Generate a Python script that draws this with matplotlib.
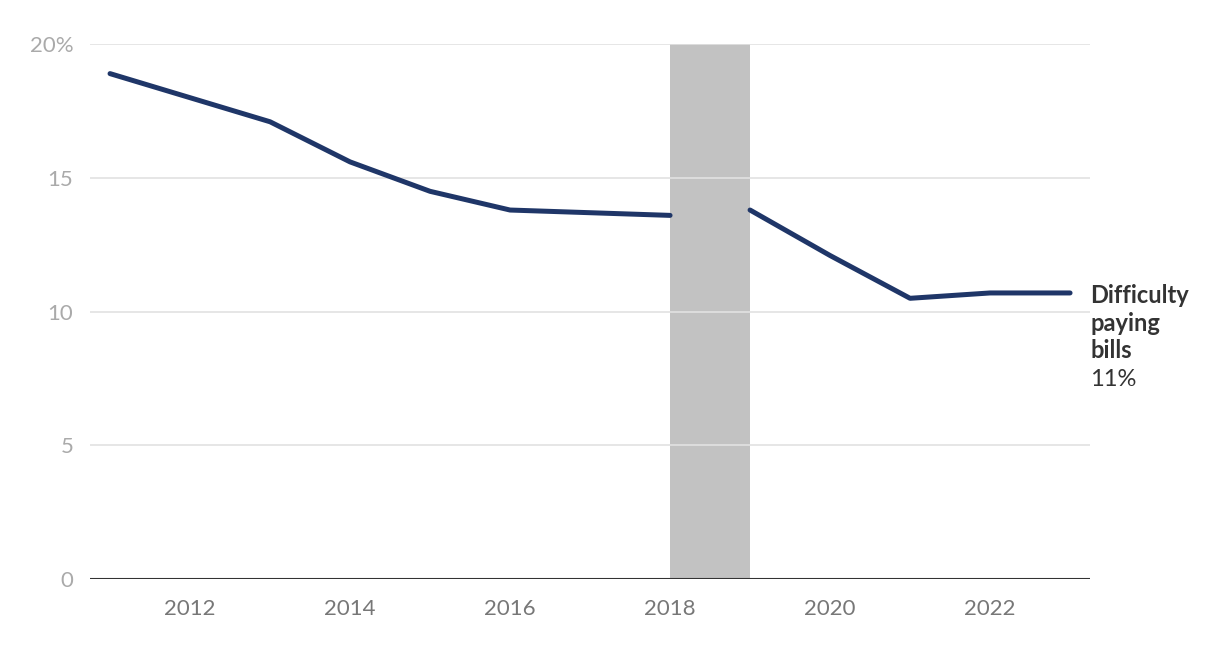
import numpy as np
import matplotlib
matplotlib.use('Agg')
import matplotlib.pyplot as plt

plt.rcParams['font.family'] = ['Lato', 'DejaVu Sans']

# data: share of adults with difficulty paying bills (%)
years = [2011, 2012, 2013, 2014, 2015, 2016, 2017, 2018, 2019, 2020, 2021, 2022, 2023]
share = [18.9, 18.0, 17.1, 15.6, 14.5, 13.8, 13.7, 13.6, 13.8, 12.1, 10.5, 10.7, 10.7]
break_start, break_end = 2018, 2019   # survey break, shaded
y_ticks = [0, 5, 10, 15, 20]
y_labels = ['0', '5', '10', '15', '20%']
x_ticks = [2012, 2014, 2016, 2018, 2020, 2022]
label_lines = ['Difficulty', 'paying', 'bills']

line_color = '#1f3668'

fig = plt.figure(figsize=(12.2, 6.5), dpi=100)
ax = fig.add_axes([0.0738, 0.109, 0.8197, 0.823])

yrs = np.array(years)
vals = np.array(share)
before = yrs <= break_start
after = yrs >= break_end
ax.plot(yrs[before], vals[before], color=line_color, lw=3.6,
        solid_capstyle='round', solid_joinstyle='round', zorder=4)
ax.plot(yrs[after], vals[after], color=line_color, lw=3.6,
        solid_capstyle='round', solid_joinstyle='round', zorder=4)

ax.axvspan(break_start, break_end, color='#c2c2c2', lw=0, zorder=1)

for t in y_ticks[1:]:
    ax.axhline(t, color='#e2e2e2', lw=1.2, zorder=2)
ax.axhline(0, color='#333333', lw=1.5, zorder=3)

ax.set_xlim(2010.75, 2023.25)
ax.set_ylim(0, 20)
ax.set_yticks(y_ticks)
ax.set_yticklabels(y_labels)
ax.set_xticks(x_ticks)
ax.set_xticklabels([str(x) for x in x_ticks])
ax.tick_params(axis='y', length=0, pad=12, labelsize=16, labelcolor='#aaaaaa')
ax.tick_params(axis='x', length=0, pad=14, labelsize=16, labelcolor='#777777')
for s in ax.spines.values():
    s.set_visible(False)

# end label, one line every ~27.5 px below the first baseline
def px_to_axes(py):
    return (579 - py) / 535

base = 303
for i, line in enumerate(label_lines):
    ax.text(1.0, px_to_axes(base + 27.5 * i), line, transform=ax.transAxes,
            fontsize=17, fontweight='bold', color='#333333',
            va='baseline', ha='left')
ax.text(1.0, px_to_axes(base + 27.5 * len(label_lines)), f'{share[-1]:.0f}%',
        transform=ax.transAxes, fontsize=17, color='#333333',
        va='baseline', ha='left')

fig.savefig('out.png', dpi=100)
